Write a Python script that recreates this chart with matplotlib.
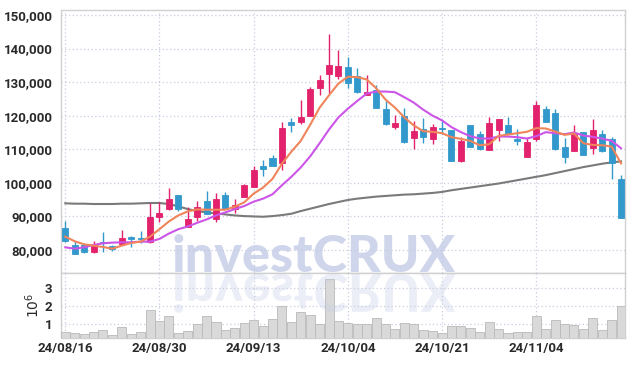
import matplotlib
matplotlib.use('Agg')
import matplotlib.pyplot as plt
import numpy as np
from matplotlib.patches import PathPatch
from matplotlib.textpath import TextPath
from matplotlib.font_manager import FontProperties
from matplotlib.transforms import Affine2D
from matplotlib.ticker import FuncFormatter, FixedLocator

# ---------------- data ----------------
dates = ['24/08/16', '24/08/19', '24/08/20', '24/08/21', '24/08/22', '24/08/23',
         '24/08/26', '24/08/27', '24/08/28', '24/08/29', '24/08/30',
         '24/09/02', '24/09/03', '24/09/04', '24/09/05', '24/09/06',
         '24/09/09', '24/09/10', '24/09/11', '24/09/12', '24/09/13',
         '24/09/19', '24/09/20', '24/09/23', '24/09/24', '24/09/25',
         '24/09/26', '24/09/27', '24/09/30', '24/10/02', '24/10/04',
         '24/10/07', '24/10/08', '24/10/10', '24/10/11', '24/10/14',
         '24/10/15', '24/10/16', '24/10/17', '24/10/18', '24/10/21',
         '24/10/22', '24/10/23', '24/10/24', '24/10/25', '24/10/28',
         '24/10/29', '24/10/30', '24/10/31', '24/11/01', '24/11/04',
         '24/11/05', '24/11/06', '24/11/07', '24/11/08', '24/11/11',
         '24/11/12', '24/11/13', '24/11/14', '24/11/15']

opens = [86600, 81400, 81400, 79500, 82400, 81200, 81900, 83900, 83600, 82300,
         89900, 92100, 96400, 87000, 89900, 94600, 89100, 96400, 92200, 95900,
         98900, 105000, 107300, 105800, 118100, 118200, 120000, 128200, 132300, 131900,
         134600, 131800, 126300, 127700, 122000, 116700, 120000, 113300, 116100, 113100,
         116400, 115700, 106500, 117200, 114600, 109900, 115700, 117300, 113100, 107600,
         113200, 121900, 120900, 110600, 109600, 115200, 110400, 114700, 113100, 101200]
highs = [88500, 82800, 81800, 82800, 85300, 81500, 85900, 84300, 85700, 93900,
         94400, 98400, 96400, 92700, 94700, 97600, 96900, 97400, 95100, 99600,
         105000, 106900, 108300, 118200, 119200, 124600, 128500, 132100, 144200, 139600,
         137400, 134100, 132100, 129100, 124400, 120100, 122400, 118400, 119300, 117400,
         118400, 115700, 113800, 117300, 115400, 119500, 118900, 119500, 116000, 113500,
         124400, 123000, 121900, 113300, 117200, 115200, 118900, 115700, 113800, 102300]
lows = [82400, 78800, 79000, 79000, 79500, 79600, 81600, 80900, 82200, 82000,
        88200, 91900, 91700, 86900, 88700, 90600, 88300, 92100, 91100, 95800,
        98700, 102000, 104900, 103800, 115100, 117500, 119900, 126200, 126700, 130900,
        128200, 126700, 126300, 122300, 117100, 116000, 112000, 110000, 111800, 111500,
        114600, 106500, 106300, 110700, 109800, 109900, 112600, 114600, 111200, 107600,
        112400, 118000, 109700, 105800, 109600, 108400, 108600, 109200, 101100, 89600]
closes = [82800, 78900, 79400, 81400, 82100, 80200, 83600, 83300, 83300, 89800,
          91100, 95200, 92100, 89200, 92800, 90700, 95200, 92200, 93400, 99400,
          103800, 104100, 105100, 116300, 117300, 119600, 128000, 130600, 135100, 134800,
          129700, 127100, 127200, 122400, 117600, 117900, 112300, 115300, 113700, 116600,
          116000, 106500, 112600, 110800, 110000, 117800, 118900, 114600, 112600, 112300,
          123200, 118200, 110000, 107800, 114500, 108400, 115700, 109500, 105800, 89600]

ma5 = [84000, 82600, 81700, 81300, 80900, 80400, 81300, 82100, 82500, 84000,
       86200, 88500, 90300, 91500, 92100, 92000, 92000, 92000, 92900, 94200,
       96800, 98600, 101200, 105700, 109300, 112500, 117300, 122400, 126100, 129600,
       131600, 131500, 130800, 128200, 124800, 122400, 119500, 117100, 115400, 115200,
       114800, 113600, 113100, 112500, 111200, 111500, 114000, 114400, 114800, 115200,
       116300, 116200, 115300, 114300, 114700, 111800, 111300, 111200, 110800, 105800]
ma10 = [80800, 80400, 80800, 81500, 82000, 82200, 82300, 82300, 82500, 82500,
        83300, 84900, 86200, 87000, 88100, 89100, 90300, 91200, 92200, 93100,
        94400, 95300, 96600, 99300, 101800, 104600, 107900, 111800, 115900, 119500,
        122100, 124400, 126600, 127200, 127200, 127000, 125500, 123900, 121800, 120000,
        118600, 116600, 115100, 113900, 113200, 113200, 113800, 113800, 113600, 113200,
        113900, 115100, 114800, 114500, 115000, 114100, 113700, 113200, 112500, 110300]
ma60 = [93900, 93800, 93800, 93700, 93700, 93700, 93800, 93800, 93900, 94000,
        94000, 93700, 93000, 92200, 91600, 91200, 90900, 90600, 90300, 90100,
        90000, 89900, 90100, 90400, 90800, 91600, 92300, 93000, 93700, 94300,
        94900, 95300, 95600, 95900, 96100, 96300, 96500, 96600, 96800, 97000,
        97300, 97800, 98200, 98600, 99000, 99400, 99800, 100300, 100800, 101300,
        101800, 102300, 102900, 103500, 104100, 104700, 105200, 105700, 106100, 106400]
volume_m = [0.57, 0.48, 0.43, 0.54, 0.65, 0.37, 0.82, 0.43, 0.54, 1.77,
            1.15, 1.43, 0.48, 0.59, 0.99, 1.43, 1.10, 0.65, 0.76, 1.04,
            1.21, 0.87, 1.27, 1.99, 1.10, 1.66, 1.49, 0.99, 3.51, 1.15,
            1.04, 0.99, 0.99, 1.32, 0.99, 0.71, 1.04, 0.99, 0.65, 0.59,
            0.48, 0.87, 0.87, 0.76, 0.54, 1.10, 0.71, 0.48, 0.54, 0.54,
            1.43, 0.71, 1.21, 0.99, 0.93, 0.71, 1.32, 0.65, 1.21, 1.99]

tick_dates = ['24/08/16', '24/08/30', '24/09/13', '24/10/04', '24/10/21', '24/11/04']
price_ticks = [80000, 90000, 100000, 110000, 120000, 130000, 140000, 150000]
volume_ticks = [1, 2, 3]

# ---------------- style ----------------
UP = '#e2226c'
DOWN = '#3399cc'
GRID = '#c9cde0'
SPINE = '#d0d0d0'
LABEL = '#2a2a2a'
tick_fp = FontProperties(family='Roboto', style='normal', weight='bold', size=9.5)

fig = plt.figure(figsize=(6.34, 3.67), dpi=100)
W, H = 634.0, 367.0
L, R = 61.5 / W, 625 / W
ax = fig.add_axes([L, 1 - 273 / H, R - L, (273 - 10) / H])
axv = fig.add_axes([L, 1 - 338.3 / H, R - L, (338.3 - 273) / H], sharex=ax)

x = np.arange(len(dates))
o = np.array(opens, float)
c = np.array(closes, float)
hi = np.array(highs, float)
lo = np.array(lows, float)
up = c >= o
cols = [UP if u else DOWN for u in up]

# wicks
ax.vlines(x, lo, hi, colors=cols, linewidth=1.0, zorder=3)
# bodies
bottom = np.minimum(o, c)
height = np.maximum(np.abs(c - o), 350)
ax.bar(x, height, bottom=bottom, width=0.64, color=cols, edgecolor=cols,
       linewidth=0.6, zorder=4)

ax.plot(x, ma60, color='#7a7a7a', linewidth=1.5, zorder=2)
ax.plot(x, ma10, color='#cc55e8', linewidth=1.5, zorder=5)
ax.plot(x, ma5, color='#f0845a', linewidth=1.5, zorder=5)

ax.set_xlim(-0.4, 59.42)
ax.set_ylim(73150, 151490)
ax.yaxis.set_major_locator(FixedLocator(price_ticks))
ax.yaxis.set_major_formatter(FuncFormatter(lambda v, p: f'{int(v):,}'))

tick_pos = [dates.index(d) for d in tick_dates]

axv.bar(x, volume_m, width=0.96, color='#d9d9d9', edgecolor='#b9b9b9',
        linewidth=0.6, zorder=3)
axv.set_ylim(0.2, 3.86)
axv.yaxis.set_major_locator(FixedLocator(volume_ticks))
axv.set_xticks(tick_pos)
axv.set_xticklabels(tick_dates)
axv.set_ylabel(r'$10^6$', fontsize=10, color=LABEL, labelpad=2)

for a in (ax, axv):
    a.grid(True, color=GRID, linestyle=(0, (1, 2)), linewidth=0.9)
    a.set_axisbelow(True)
    for s in a.spines.values():
        s.set_color(SPINE)
        s.set_linewidth(1.0)
    a.tick_params(length=0, colors=LABEL, pad=6.5)
    for lab in a.get_yticklabels():
        lab.set_fontproperties(tick_fp)
plt.setp(ax.get_xticklabels(), visible=False)
ax.tick_params(axis='x', length=0)
for lab in axv.get_xticklabels():
    lab.set_fontproperties(tick_fp)
axv.tick_params(axis='x', pad=3)

# ---------------- watermark ----------------
wm = 'investCRUX'
wm_fp = FontProperties(family='Lato', weight='black', style='normal')
wm_size = 37.5
fig.text(172 / W, 1 - 272 / H, wm, fontproperties=wm_fp, fontsize=wm_size,
         color='#c3cbe6', alpha=0.8, ha='left', va='baseline', zorder=10)
tp = TextPath((0, 0), wm, size=wm_size, prop=wm_fp)
x0_pt = 172 / 100 * 72
y0_pt = (H - 274) / 100 * 72
trans = Affine2D().scale(1, -1).translate(x0_pt, y0_pt).scale(1 / 72.0) + fig.dpi_scale_trans
fig.patches.append(PathPatch(tp, transform=trans, facecolor='#c8cfe6', edgecolor='none',
                             alpha=0.35, zorder=10))

fig.savefig('out.png', dpi=100)
